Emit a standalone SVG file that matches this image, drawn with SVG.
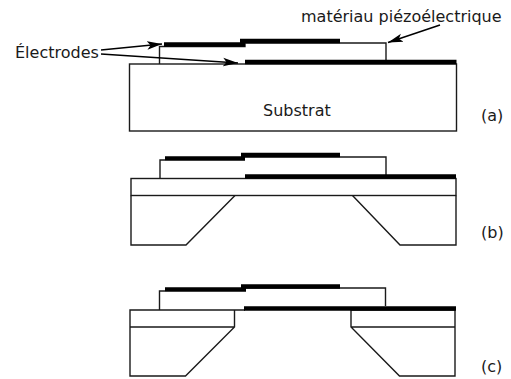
<svg xmlns="http://www.w3.org/2000/svg" width="511" height="379" viewBox="0 0 511 379">
<defs>
<marker id="arrow" markerUnits="userSpaceOnUse" markerWidth="16" markerHeight="10" refX="15" refY="5" orient="auto"><path d="M0,0.8 L15,5 L0,9.2 L3.5,5 Z" fill="#000"/></marker>
</defs>
<style>
.l{fill:none;stroke:#1a1a1a;stroke-width:1.4;stroke-linejoin:miter}
.e{fill:none;stroke:#000;stroke-width:4.300}
.a{fill:none;stroke:#000;stroke-width:1.500;marker-end:url(#arrow)}
text{font-family:"DejaVu Sans",sans-serif;font-size:16px;fill:#1a1a1a}
</style>
<g id="stack-a">
<rect class="l" x="129.5" y="64" width="327" height="67"/>
<path class="l" d="M159.5,64V46.5H245V43H386V60"/>
<path class="e" d="M164,44.500H245M240,41H340M245,62H456.5"/>
<text x="263" y="116">Substrat</text>
<text x="481" y="121">(a)</text>
</g>
<g id="stack-b">
<rect class="l" x="131" y="178.5" width="325" height="17"/>
<path class="l" d="M131,195.5V245H186L235,195.5M352.5,195.5L400,245H456V195.5"/>
<path class="l" d="M160,178.5V160H165M245,157H386V176"/>
<path class="e" d="M165,158.500H245M241,155H340M245,176.500H456"/>
<text x="481" y="238">(b)</text>
</g>
<g id="stack-c">
<path class="l" d="M245,310H130V376H185.500L234.500,327V310M130,327H234.500M455,310V376H399.500L351,327V310H455M351,327H455"/>
<path class="l" d="M159.500,310V291H165M245,288H385.500V306"/>
<path class="e" d="M165,289.500H246M241,286.500H340M244,308.500H456"/>
<text x="481" y="372">(c)</text>
</g>
<g id="labels">
<text x="15" y="58">Électrodes</text>
<text x="301" y="22">matériau piézoélectrique</text>
</g>
<g id="connectors">
<path class="a" d="M101,50L162,44"/>
<path class="a" d="M101,54L238,63"/>
<path class="a" d="M440,25L388,42.500"/>
</g>
</svg>
